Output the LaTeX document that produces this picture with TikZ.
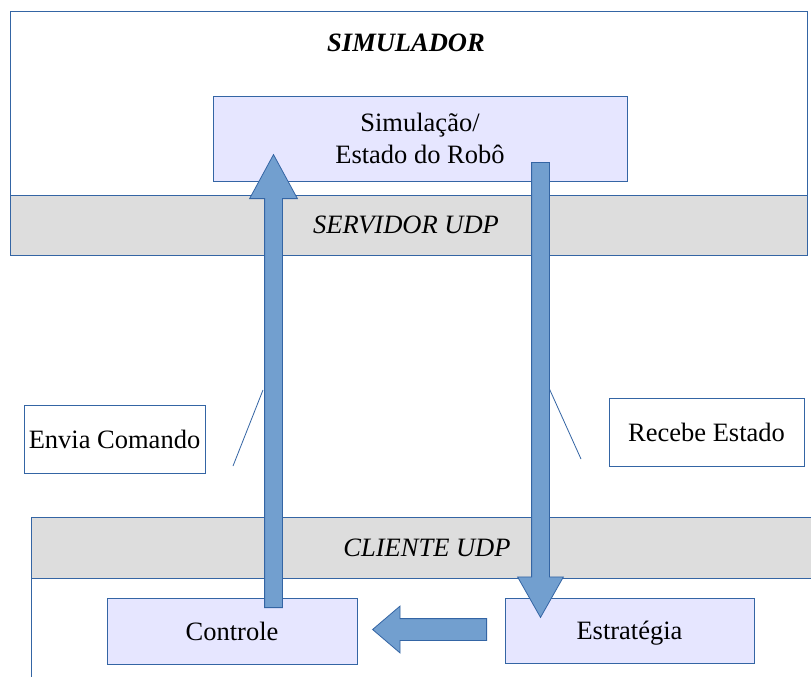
\documentclass[tikz,border=0pt]{standalone}
\usepackage{fontspec}
\setmainfont{Liberation Serif}
\usetikzlibrary{shapes.arrows}
\usepackage{xcolor}

\definecolor{boxline}{RGB}{52,101,164}
\definecolor{boxfill}{RGB}{230,230,255}
\definecolor{bandgray}{RGB}{221,221,221}
\definecolor{arrowfill}{RGB}{114,159,207}

\begin{document}
\begin{tikzpicture}[x=1pt, y=-1pt,
        font=\fontsize{26.5}{32}\selectfont,
        block/.style={draw=boxline, fill=boxfill, line width=1pt, inner sep=0pt, align=center},
        module/.style={block, text height=18.5pt, text depth=0pt},
        labelbox/.style={draw=boxline, fill=white, line width=1pt, inner sep=0pt},
        fatarrow/.style={single arrow, draw=boxline, fill=arrowfill, line width=0.8pt,
            inner xsep=0pt, inner ysep=8.5pt, anchor=tail}]
        \clip (0,0) rectangle (811,677);
        \fill[white] (0,0) rectangle (811,677);

        % Simulator frame, server strip at its foot
        \fill[bandgray] (10,195) rectangle (807,255);
        \draw[boxline, line width=1pt] (10,12) rectangle (807,255);
        \draw[boxline, line width=1pt] (10,195) -- (807,195);
        \node (simtitle) at (406,43) {\textbf{\textit{SIMULADOR}}};
        \node (server) at (406,225) {\textit{SERVIDOR UDP}};
        \node[block, minimum width=414pt, minimum height=85pt] (state) at (420,138.5)
            {Simulação/\\Estado do Robô};

        % Client frame, runs off the page to the right and below
        \fill[bandgray] (31,517) rectangle (830,578);
        \draw[boxline, line width=1pt] (830,517) -- (31,517) -- (31,690);
        \draw[boxline, line width=1pt] (31,578) -- (830,578);
        \node (client) at (427,547.5) {\textit{CLIENTE UDP}};

        % Modules of the client
        \node[module, minimum width=250pt, minimum height=66pt] (ctrl) at (232,631) {Controle};
        \node[module, minimum width=249pt, minimum height=65pt] (strat) at (629.5,630.5) {Estratégia};

        % Side labels and their callout strokes
        \node[labelbox, minimum width=181pt, minimum height=68pt] (send) at (114.5,439) {Envia Comando};
        \node[labelbox, minimum width=195pt, minimum height=68pt] (recv) at (706.5,432) {Recebe Estado};
        \coordinate (sendtip) at (263,390);
        \coordinate (sendfoot) at (233,466);
        \coordinate (recvtip) at (549,388);
        \coordinate (recvfoot) at (581,459);
        \draw[boxline, line width=0.8pt] (sendtip) -- (sendfoot);
        \draw[boxline, line width=0.8pt] (recvtip) -- (recvfoot);

        % Data flow arrows, each set by its tail
        \node[fatarrow, rotate=90, minimum height=453pt, minimum width=47pt,
            single arrow head extend=15pt, single arrow tip angle=57] (cmdflow) at (273.5,608) {};
        \node[fatarrow, rotate=-90, minimum height=455pt, minimum width=45pt,
            single arrow head extend=14pt, single arrow tip angle=59] (stateflow) at (540.5,162) {};
        \node[fatarrow, rotate=180, inner ysep=10.5pt, minimum height=114pt, minimum width=46pt,
            single arrow head extend=12.5pt, single arrow tip angle=81] (plan) at (487,629.5) {};
\end{tikzpicture}
\end{document}
